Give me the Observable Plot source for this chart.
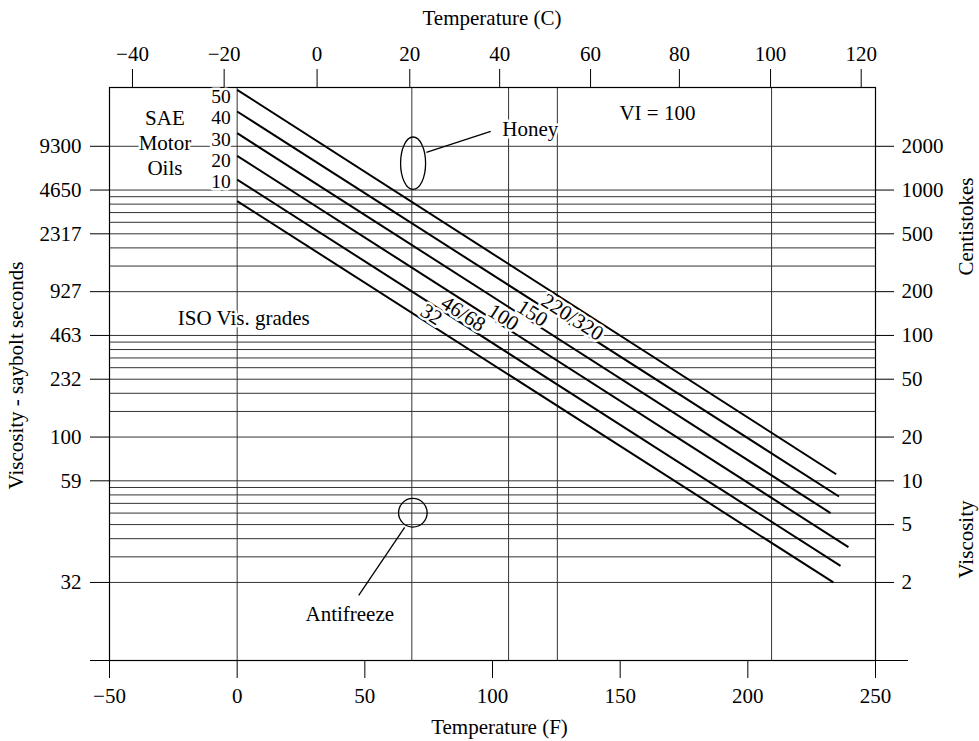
<!DOCTYPE html>
<html>
<head>
<meta charset="utf-8">
<script src="https://cdn.jsdelivr.net/npm/d3@7"></script>
<script src="https://cdn.jsdelivr.net/npm/@observablehq/plot@0.6"></script>
<style>
  body { margin: 0; background: #fff; }
</style>
</head>
<body>
<div id="chart"></div>
<script>
// ---------- data ----------
// bottom axis: temperature °F
const fTicks = [-50, 0, 50, 100, 150, 200, 250];
const fTickLabels = ["−50", "0", "50", "100", "150", "200", "250"];
// top axis: temperature °C, tick positions read in °F
const cTickF = [-41.0, -5.1, 31.3, 67.6, 102.8, 138.4, 173.2, 208.9, 244.4];
const cTickLabels = ["−40", "−20", "0", "20", "40", "60", "80", "100", "120"];
// y: viscosity in centistokes (log scale)
const yDomain = [0.581, 5074];
const leftTickValues = [2000, 1000, 500, 200, 100, 50, 20, 10, 2];
const leftTickLabels = ["9300", "4650", "2317", "927", "463", "232", "100", "59", "32"];
const rightTickValues = [2000, 1000, 500, 200, 100, 50, 20, 10, 5, 2];
const rightTickLabels = ["2000", "1000", "500", "200", "100", "50", "20", "10", "5", "2"];
const gridValues = [2000, 1000, 900, 800, 700, 600, 500, 400, 300, 200,
                    100, 90, 80, 70, 60, 50, 40, 30, 20,
                    10, 9, 8, 7, 6, 5, 4, 3, 2];
const verticalF = [0, 68.4, 106.3, 125.4, 209.3];

// oil lines (start / end in °F and cSt)
const oilNames  = ["L1", "L2", "L3", "L4", "L5", "L6"];
const oilStartF = [0, 0, 0, 0, 0, 0];
const oilStartV = [4890, 3470, 2460, 1720, 1180, 840];
const oilEndF   = [234.6, 235.7, 232.4, 239.4, 236.3, 233.5];
const oilEndV   = [11.1, 7.8, 6.0, 3.5, 2.6, 2.0];

// SAE grade labels
const saeLabels = ["50", "40", "30", "20", "10"];
const saeF = [-2.5, -2.5, -2.5, -2.5, -2.5];
const saeV = [4359, 3125, 2217, 1582, 1134];

// ISO grade labels
const isoLabels = ["32", "46/68", "100", "150", "220/320"];
const isoF = [76.1, 88.6, 104.3, 115.6, 131.3];
const isoV = [139.4, 140.9, 133.5, 142.2, 133.5];

// annotations
const noteTexts = ["SAE\nMotor\nOils", "ISO Vis. grades", "Honey", "VI = 100", "Antifreeze"];
const noteF = [-28.3, 2.6, 114.8, 164.6, 44.1];
const noteV = [2140, 134, 2681, 3437, 1.231];

const honeyF = [68.9], honeyV = [1530];
const antifreezeF = [68.8], antifreezeV = [6.03];

const leaderF1 = [74.1, 65.6], leaderV1 = [1813, 4.78];
const leaderF2 = [99.3, 47.6], leaderV2 = [2528, 1.627];

// ---------- build tables ----------
const oils = oilNames.map((n, i) => ({name: n, x1: oilStartF[i], y1: oilStartV[i], x2: oilEndF[i], y2: oilEndV[i]}));
const sae = saeLabels.map((t, i) => ({t, x: saeF[i], y: saeV[i]}));
const iso = isoLabels.map((t, i) => ({t, x: isoF[i], y: isoV[i]}));
const notes = noteTexts.map((t, i) => ({t, x: noteF[i], y: noteV[i]}));
const leaders = leaderF1.map((d, i) => ({x1: d, y1: leaderV1[i], x2: leaderF2[i], y2: leaderV2[i]}));
const leftTicks = leftTickValues.map((v, i) => ({v, label: leftTickLabels[i]}));
const rightTicks = rightTickValues.map((v, i) => ({v, label: rightTickLabels[i]}));

const fMap = new Map(fTicks.map((d, i) => [d, fTickLabels[i]]));
const cMap = new Map(cTickF.map((d, i) => [d, cTickLabels[i]]));

// ellipse symbol (taller than wide)
const ellipse = (ratio) => ({
  draw(ctx, size) {
    const r = Math.sqrt(size / Math.PI);
    const rx = r * ratio, ry = r, k = 0.5523;
    ctx.moveTo(rx, 0);
    ctx.bezierCurveTo(rx, ry * k, rx * k, ry, 0, ry);
    ctx.bezierCurveTo(-rx * k, ry, -rx, ry * k, -rx, 0);
    ctx.bezierCurveTo(-rx, -ry * k, -rx * k, -ry, 0, -ry);
    ctx.bezierCurveTo(rx * k, -ry, rx, -ry * k, rx, 0);
    ctx.closePath();
  }
});

const FONT = 21;
const halo = {fill: "black", stroke: "white", strokeWidth: 5};

const chart = Plot.plot({
  width: 979,
  height: 741,
  marginLeft: 109,
  marginRight: 104,
  marginTop: 87,
  marginBottom: 81,
  style: {fontFamily: "'Liberation Serif', serif", fontSize: FONT + "px", background: "white", color: "black"},
  x: {domain: [-50, 250], axis: null},
  y: {type: "log", domain: yDomain, axis: null},
  marks: [
    Plot.ruleY(gridValues, {stroke: "#333", strokeWidth: 1}),
    Plot.ruleX(verticalF, {stroke: "#333", strokeWidth: 1}),
    Plot.frame({stroke: "black", strokeWidth: 1.2}),
    Plot.ruleY([yDomain[0]], {insetLeft: -19, insetRight: -33, stroke: "black", strokeWidth: 1.2}),
    Plot.link(oils, {x1: "x1", y1: "y1", x2: "x2", y2: "y2", stroke: "black", strokeWidth: 2}),

    // x axes
    Plot.axisX(fTicks, {anchor: "bottom", tickSize: 18, tickPadding: 10, tickFormat: d => fMap.get(d), fontSize: FONT, label: null}),
    Plot.axisX(cTickF, {anchor: "top", tickSize: 19, tickPadding: 8, tickFormat: d => cMap.get(d), fontSize: FONT, label: null}),
    // y axes: ticks from the axis mark, labels as text marks
    Plot.axisY(leftTickValues, {anchor: "left", tickSize: 19, tickFormat: () => "", label: null}),
    Plot.axisY(rightTickValues, {anchor: "right", tickSize: 18, tickFormat: () => "", label: null}),
    Plot.text(leftTicks, {y: "v", text: "label", frameAnchor: "left", textAnchor: "end", lineAnchor: "middle", dx: -28, fontSize: FONT}),
    Plot.text(rightTicks, {y: "v", text: "label", frameAnchor: "right", textAnchor: "start", lineAnchor: "middle", dx: 26, fontSize: FONT}),

    // axis titles
    Plot.text(["Temperature (C)"], {frameAnchor: "top", textAnchor: "middle", lineAnchor: "middle", dx: -0.5, dy: -69.7, fontSize: FONT}),
    Plot.text(["Temperature (F)"], {frameAnchor: "bottom", textAnchor: "middle", lineAnchor: "middle", dx: 7, dy: 66.3, fontSize: FONT}),
    Plot.text(["Viscosity - saybolt seconds"], {frameAnchor: "left", textAnchor: "middle", lineAnchor: "middle", rotate: -90, dx: -93.5, dy: 1.5, fontSize: FONT}),
    Plot.text(["Centistokes"], {frameAnchor: "right", textAnchor: "middle", lineAnchor: "middle", rotate: -90, dx: 90.5, dy: -147.5, fontSize: FONT}),
    Plot.text(["Viscosity"], {frameAnchor: "right", textAnchor: "middle", lineAnchor: "middle", rotate: -90, dx: 90.5, dy: 165.5, fontSize: FONT}),

    // labels
    Plot.text(sae, {x: "x", y: "y", text: "t", textAnchor: "end", fontSize: 19.5, ...halo}),
    Plot.text(iso, {x: "x", y: "y", text: "t", rotate: 32.6, fontSize: FONT, ...halo}),
    Plot.text(notes, {x: "x", y: "y", text: "t", lineHeight: 1.18, fontSize: FONT, ...halo}),

    Plot.dot(honeyF.map((d, i) => ({x: d, y: honeyV[i]})), {x: "x", y: "y", r: 26.2, symbol: ellipse(0.477), stroke: "black", strokeWidth: 1.3, fill: "none"}),
    Plot.dot(antifreezeF.map((d, i) => ({x: d, y: antifreezeV[i]})), {x: "x", y: "y", r: 14.3, stroke: "black", strokeWidth: 1.3, fill: "none"}),
    Plot.link(leaders, {x1: "x1", y1: "y1", x2: "x2", y2: "y2", stroke: "black", strokeWidth: 1.3})
  ]
});

document.getElementById("chart").append(chart);
</script>
</body>
</html>
